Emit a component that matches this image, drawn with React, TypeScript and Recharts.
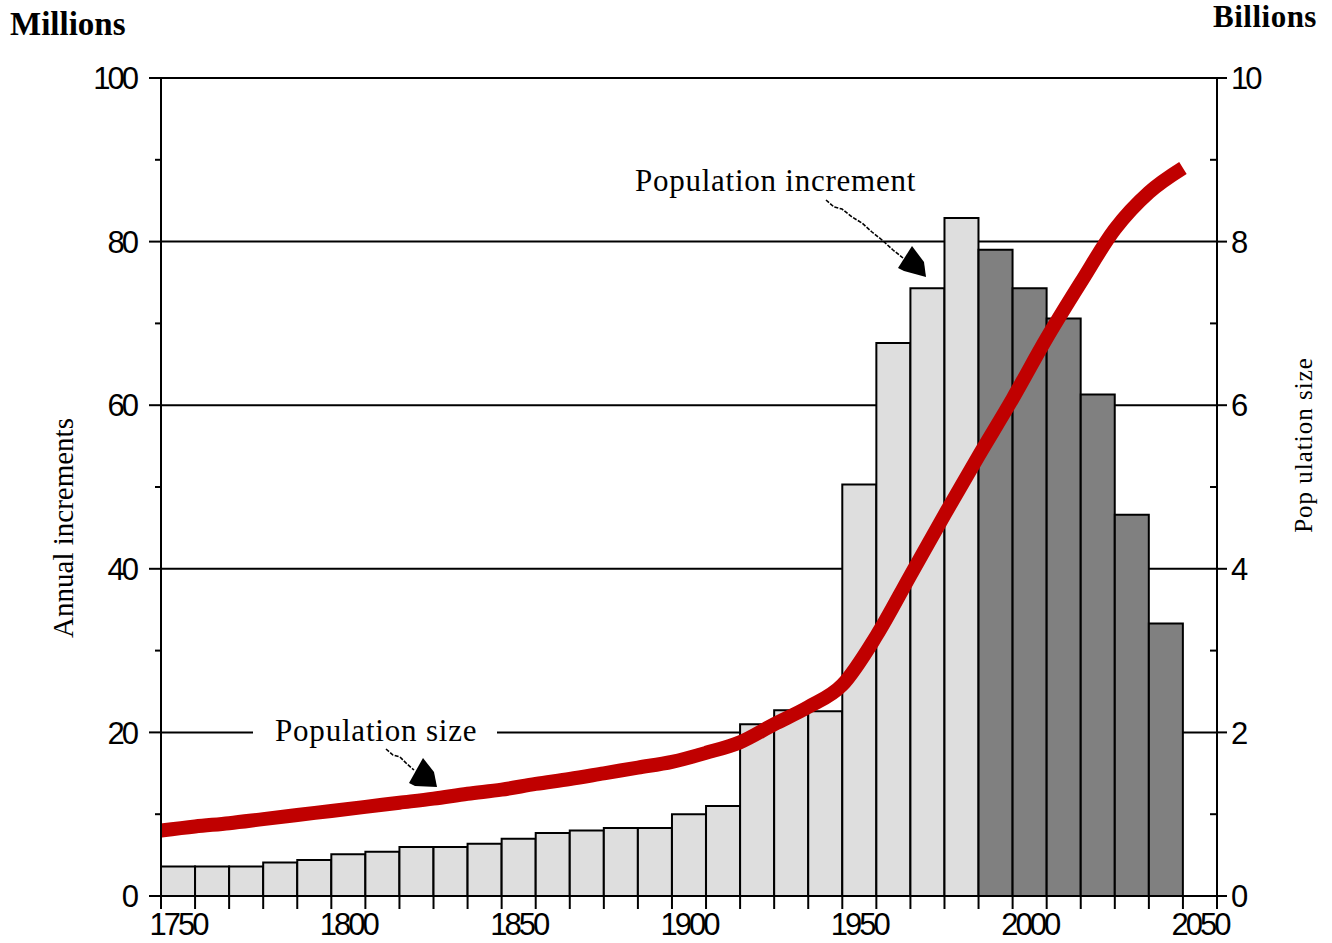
import { Bar, CartesianGrid, Cell, ComposedChart, Line, XAxis, YAxis } from "recharts";

// decades shown on the x axis (2050 slot has no bar)
const years = [
  1750, 1760, 1770, 1780, 1790, 1800, 1810, 1820, 1830, 1840, 1850,
  1860, 1870, 1880, 1890, 1900, 1910, 1920, 1930, 1940, 1950,
  1960, 1970, 1980, 1990, 2000, 2010, 2020, 2030, 2040, 2050,
];

// annual increments, millions
const increments: (number | null)[] = [
  3.6, 3.6, 3.6, 4.1, 4.4, 5.1, 5.4, 6.0, 6.0, 6.4, 7.0,
  7.7, 8.0, 8.3, 8.3, 10.0, 11.0, 21.0, 22.7, 22.6, 50.3,
  67.6, 74.3, 82.9, 79.0, 74.3, 70.6, 61.3, 46.6, 33.3, null,
];

// population size, billions
const population = [
  0.8, 0.85, 0.89, 0.94, 0.99, 1.04, 1.09, 1.14, 1.19, 1.25, 1.3,
  1.37, 1.43, 1.5, 1.57, 1.64, 1.75, 1.88, 2.1, 2.31, 2.58,
  3.18, 3.92, 4.66, 5.38, 6.08, 6.82, 7.5, 8.15, 8.6, 8.9,
];

const projectionStart = 1990;
const leftTicks = [0, 10, 20, 30, 40, 50, 60, 70, 80, 90, 100];
const rightTicks = [0, 1, 2, 3, 4, 5, 6, 7, 8, 9, 10];
const gridValues = [20, 40, 60, 80, 100];

const data = years.map((y, i) => ({
  year: String(y),
  yearNum: y,
  inc: increments[i],
  pop: population[i],
}));

const W = 1332;
const H = 943;
const PLOT = { left: 161, right: 1217, top: 78, bottom: 896 };
const LEFT_W = 100;
const RIGHT_W = 80;
const XAXIS_H = 40;
const band = (PLOT.right - PLOT.left) / years.length;

const numFont = {
  fontFamily: "'Liberation Sans', Arial, sans-serif",
  fontSize: 31,
  letterSpacing: -3,
  fill: "#000",
};
const serif = "'Liberation Serif', 'Times New Roman', serif";

function LeftTick(props: any) {
  const { x, y, payload } = props;
  const major = payload.value % 20 === 0;
  return (
    <g>
      <line x1={x - (major ? 12 : 6)} x2={x} y1={y} y2={y} stroke="#000" strokeWidth={2} />
      {major && (
        <text x={x - 25} y={y} dy="0.36em" textAnchor="end" {...numFont}>
          {payload.value}
        </text>
      )}
    </g>
  );
}

function RightTick(props: any) {
  const { x, y, payload } = props;
  const major = payload.value % 2 === 0;
  return (
    <g>
      {major ? (
        <line x1={x} x2={x + 10} y1={y} y2={y} stroke="#000" strokeWidth={2} />
      ) : (
        <line x1={x - 7} x2={x} y1={y} y2={y} stroke="#000" strokeWidth={2} />
      )}
      {major && (
        <text x={x + 14} y={y} dy="0.36em" textAnchor="start" {...numFont}>
          {payload.value}
        </text>
      )}
    </g>
  );
}

function YearTick(props: any) {
  const { x, y, payload } = props;
  const idx = props.index ?? payload.index;
  const edge = x - band / 2;
  return (
    <g>
      <line x1={edge} x2={edge} y1={y} y2={y + 13} stroke="#000" strokeWidth={2} />
      {idx === years.length - 1 && (
        <line x1={x + band / 2} x2={x + band / 2} y1={y} y2={y + 13} stroke="#000" strokeWidth={2} />
      )}
      {idx % 5 === 0 && (
        <text x={x} y={y + 39} textAnchor="middle" {...numFont}>
          {payload.value}
        </text>
      )}
    </g>
  );
}

export default function App() {
  return (
    <div style={{ position: "absolute", left: 0, top: 0, width: W, height: H, background: "#fff" }}>
      <ComposedChart
        width={W}
        height={H}
        data={data}
        barCategoryGap={0}
        barGap={0}
        margin={{
          top: PLOT.top,
          left: PLOT.left - LEFT_W,
          right: W - PLOT.right - RIGHT_W,
          bottom: H - PLOT.bottom - XAXIS_H,
        }}
      >
        <CartesianGrid
          xAxisId="cat"
          yAxisId="inc"
          vertical={false}
          horizontalValues={gridValues}
          stroke="#000"
          strokeWidth={2}
        />
        <XAxis
          xAxisId="cat"
          dataKey="year"
          height={XAXIS_H}
          interval={0}
          tickSize={0}
          tickMargin={0}
          tickLine={false}
          axisLine={{ stroke: "#000", strokeWidth: 2 }}
          tick={YearTick}
        />
        <XAxis xAxisId="num" dataKey="yearNum" type="number" domain={[1750, 2060]} hide />
        <YAxis
          yAxisId="inc"
          width={LEFT_W}
          domain={[0, 100]}
          ticks={leftTicks}
          interval={0}
          tickSize={0}
          tickMargin={0}
          tickLine={false}
          axisLine={{ stroke: "#000", strokeWidth: 2 }}
          tick={LeftTick}
        />
        <YAxis
          yAxisId="pop"
          orientation="right"
          width={RIGHT_W}
          domain={[0, 10]}
          ticks={rightTicks}
          interval={0}
          tickSize={0}
          tickMargin={0}
          tickLine={false}
          axisLine={{ stroke: "#000", strokeWidth: 2 }}
          tick={RightTick}
        />
        <Bar
          xAxisId="cat"
          yAxisId="inc"
          dataKey="inc"
          stroke="#000"
          strokeWidth={2}
          isAnimationActive={false}
        >
          {data.map((d) => (
            <Cell key={d.year} fill={d.yearNum >= projectionStart ? "#808080" : "#dedede"} />
          ))}
        </Bar>
        <Line
          xAxisId="num"
          yAxisId="pop"
          dataKey="pop"
          type="monotone"
          stroke="#c00000"
          strokeWidth={14}
          dot={false}
          activeDot={false}
          isAnimationActive={false}
        />
      </ComposedChart>

      <svg
        width={W}
        height={H}
        style={{ position: "absolute", left: 0, top: 0, pointerEvents: "none" }}
      >
        <text x={10} y={35} fontFamily={serif} fontWeight="bold" fontSize={33}>
          Millions
        </text>
        <text x={1213} y={27} fontFamily={serif} fontWeight="bold" fontSize={31} letterSpacing={0.5}>
          Billions
        </text>
        <text
          x={73}
          y={528}
          transform="rotate(-90 73 528)"
          textAnchor="middle"
          fontFamily={serif}
          fontSize={29}
        >
          Annual increments
        </text>
        <text
          x={1312}
          y={445}
          transform="rotate(-90 1312 445)"
          textAnchor="middle"
          fontFamily={serif}
          fontSize={25}
          letterSpacing={1}
        >
          Pop ulation size
        </text>

        {/* annotation: population increment */}
        <text x={635} y={191} fontFamily={serif} fontSize={31} letterSpacing={0.75}>
          Population increment
        </text>
        <polyline
          points="826,200 834,207 842,209 852,217 862,223 872,232 882,240 893,250 903,258"
          fill="none"
          stroke="#000"
          strokeWidth={1.6}
          strokeDasharray="4 1.5"
        />
        <polygon points="912,246 898,268 904,271 926,277 924,262" fill="#000" />

        {/* annotation: population size */}
        <rect x={253} y={718} width={244} height={28} fill="#fff" />
        <text x={275} y={741} fontFamily={serif} fontSize={31} letterSpacing={0.8}>
          Population size
        </text>
        <polyline
          points="386,749 393,755 400,757 407,764 414,770"
          fill="none"
          stroke="#000"
          strokeWidth={1.6}
          strokeDasharray="4 1.5"
        />
        <polygon points="423,758 409,783 415,786 437,787 434,772" fill="#000" />
      </svg>
    </div>
  );
}
